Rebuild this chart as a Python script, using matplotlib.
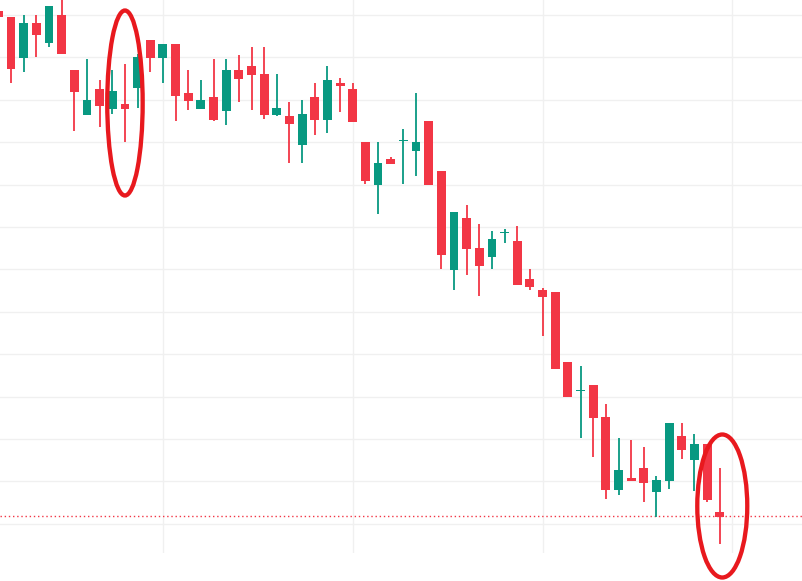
import matplotlib
matplotlib.use("Agg")
import matplotlib.pyplot as plt
import matplotlib.patches as mpatches

# OHLC values (arbitrary price units)
OPEN = [589, 583, 542, 577, 557, 585, 530, 485, 511, 491, 496, 512, 560, 542, 556, 507, 491, 503, 489, 530,
        534, 526, 485, 484, 455, 503, 480, 517, 511, 458, 415, 441, 459, 449, 479, 429, 330, 382, 352, 343,
        367, 359, 321, 310, 308, 238, 209, 215, 183, 110, 122, 132, 108, 119, 164, 140, 156, 88]
HIGH = [589, 583, 585, 585, 594, 600, 530, 541, 520, 530, 536, 546, 560, 556, 556, 530, 520, 541, 541, 545,
        553, 553, 526, 498, 500, 517, 534, 522, 517, 458, 458, 443, 471, 507, 479, 429, 388, 395, 376, 369,
        371, 374, 331, 312, 308, 238, 234, 215, 196, 162, 160, 153, 124, 177, 177, 166, 156, 132]
LOW = [583, 517, 528, 543, 553, 546, 469, 485, 473, 486, 458, 492, 528, 517, 479, 490, 491, 479, 475, 498,
       490, 481, 484, 437, 437, 465, 467, 488, 478, 416, 386, 436, 416, 424, 415, 331, 310, 325, 304, 331,
       357, 315, 310, 264, 231, 203, 162, 143, 101, 105, 119, 98, 83, 111, 141, 109, 98, 56]
CLOSE = [583, 531, 577, 565, 594, 546, 508, 500, 494, 509, 491, 543, 542, 556, 504, 499, 500, 480, 530, 521,
         525, 485, 492, 476, 486, 480, 520, 514, 478, 419, 437, 436, 460, 458, 415, 345, 388, 351, 334, 361,
         368, 315, 313, 303, 231, 203, 210, 182, 110, 130, 119, 117, 120, 177, 150, 156, 100, 83]
LAST_PRICE = 84
MARKED = [(10, 497, 2.8, 185), (57.2, 94, 3.95, 143)]  # (candle, price, width, height)

UP = "#089981"
DOWN = "#F23645"
MARK = "#E8191E"
GRID = "#F0F0F0"

fig = plt.figure(figsize=(8.02, 5.81), dpi=100)
ax = fig.add_axes([0, 28 / 581, 1, 553 / 581])

for i, (o, h, l, c) in enumerate(zip(OPEN, HIGH, LOW, CLOSE)):
    col = UP if c >= o else DOWN
    ax.vlines(i, l, h, color=col, lw=1.3, zorder=2)
    lo, hi = min(o, c), max(o, c)
    ax.add_patch(mpatches.Rectangle((i - 0.35, lo), 0.7, max(hi - lo, 1.5),
                                    facecolor=col, edgecolor="none", zorder=3))

ax.axhline(LAST_PRICE, color=DOWN, lw=1, ls=(0, (1, 2)), zorder=1)

for x, y, w, h in MARKED:
    ax.add_patch(mpatches.Ellipse((x, y), w, h, fill=False, edgecolor=MARK, lw=3.1,
                                  zorder=5, clip_on=False))

ax.set_xlim(0.126, 63.5)
ax.set_ylim(47, 600)
ax.set_yticks([585 - 42.4 * k for k in range(13)])
ax.set_xticks([13, 28, 43, 58])
ax.grid(True, color=GRID, lw=1, zorder=0)
ax.set_axisbelow(True)
ax.tick_params(length=0, labelleft=False, labelbottom=False)
for s in ax.spines.values():
    s.set_visible(False)

fig.savefig("out.png", dpi=100)
